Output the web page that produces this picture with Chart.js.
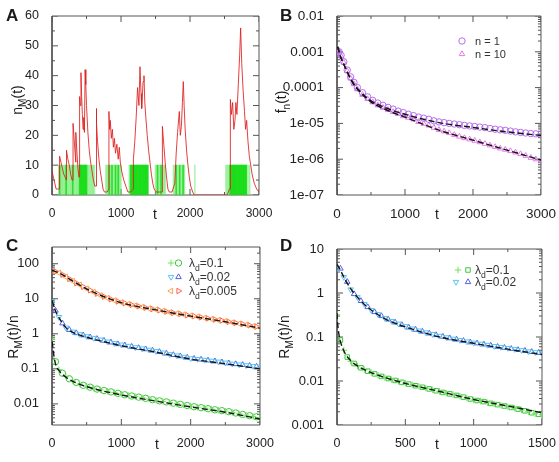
<!DOCTYPE html>
<html>
<head>
<meta charset="utf-8">
<script src="https://cdn.jsdelivr.net/npm/chart.js@4.4.1/dist/chart.umd.min.js"></script>
<style>
  body { margin: 0; background: #fff; }
  #fig { position: relative; width: 559px; height: 462px; overflow: hidden; }
  #fig canvas { position: absolute; }
</style>
</head>
<body>
<div id="fig">
  <canvas id="cA" width="280" height="230" style="left:0;top:0"></canvas>
  <canvas id="cB" width="294" height="230" style="left:265px;top:0"></canvas>
  <canvas id="cC" width="280" height="232" style="left:0;top:230px"></canvas>
  <canvas id="cD" width="294" height="232" style="left:265px;top:230px"></canvas>
</div>
<script>
//===========================================================================================
// ~~ DATA ~~

// A : n_M(t), one trajectory (red) and the times where the green bars are drawn
var tA = [0,20,40,60,80,110,110,130,150,170,190,210,210,230,250,270,290,305,305,320,
  335,345,345,360,375,390,400,400,410,420,430,440,450,460,470,480,490,500,520,540,
  560,580,600,620,640,640,650,660,680,700,720,740,760,800,825,825,835,845,860,875,
  890,905,920,940,960,975,990,1010,1040,1070,1100,1140,1180,1180,1200,1220,1240,1260,1275,1290,
  1300,1320,1333,1345,1360,1380,1400,1420,1440,1460,1480,1510,1560,1600,1600,1620,1640,1660,1680,1700,
  1740,1780,1800,1820,1845,1860,1875,1890,1903,1915,1930,1950,1970,1990,2010,2040,2060,2300,2540,2570,
  2585,2585,2600,2618,2635,2652,2665,2680,2700,2720,2734,2750,2770,2790,2805,2821,2840,2860,2880,2900,
  2930,2966,3000];
var nA = [8,6,4,2,2,2,13,11,9,7,6,5,15,12,10,7,5,5,24,19,
  14,11,21,15,9,6,6,33,30,41,33,27,22,26,21,42,37,30,21,15,
  11,8,5,3,3,29,24,18,12,8,5,2,1,1,2,28,22,25,19,22,
  16,19,14,17,12,16,11,8,5,3,1,1,2,12,18,26,36,30,43,34,
  29,38,40,31,26,20,15,11,7,4,2,1,1,1,23,17,11,6,2,1,
  1,4,14,21,28,20,23,31,38,30,22,15,10,6,3,1,0,0,0,2,
  2,32,27,31,22,25,31,27,37,47,56,44,35,28,22,25,18,13,10,7,
  4,2,1];
var gLevel = 10;
var gLight = [100,112,125,140,150,165,178,190,205,215,228,240,255,268,280,295,310,322,335,350,362,375,388,
  505,518,530,545,560,572,588,600,615,
  780,795,808,820,835,848,860,875,890,905,918,930,945,958,972,985,1000,
  1120,1135,1500,1512,1525,1540,1555,1570,1585,1600,1615,1630,1640,
  1760,1775,1790,1805,1820,1835,1850,1865,1880,1895,1910,1920,2070,
  2520,2535,2550,2565,2850,2865];
var gBright = [110,205,300,400,410,420,430,440,450,460,470,480,490,500,830,870,920,960,
  1140,1150,1160,1170,1180,1190,1200,1210,1220,1230,1240,1250,1260,1270,1280,1290,1300,1310,1320,1330,1340,1350,1360,1370,1380,1390,
  1530,1580,1800,1850,1900,
  2580,2590,2600,2610,2620,2630,2640,2650,2660,2670,2680,2690,2700,2710,2720,2730,2740,2750,2760,2770,2780,2790,2800,2810,2820];

// B : f_n(t)
var tB = [0,30,60,100,150,200,250,300,375,450,525,600,675,750,825,900,975,1050,1125,1200,1275,1350,
  1425,1500,1575,1650,1725,1800,1875,1950,2025,2100,2175,2250,2325,2400,2475,2550,2625,2700,2775,2850,2925,3000];
var fB1 = [1.1e-3,1.0e-3,8e-4,5.3e-4,3.1e-4,2.0e-4,1.4e-4,1.0e-4,7.2e-5,5.5e-5,4.4e-5,3.7e-5,3.2e-5,2.8e-5,2.5e-5,2.2e-5,2.0e-5,1.8e-5,1.65e-5,1.5e-5,1.4e-5,1.3e-5,
  1.18e-5,1.1e-5,1.05e-5,1.0e-5,9.6e-6,9.2e-6,8.8e-6,8.5e-6,8.2e-6,7.9e-6,7.6e-6,7.2e-6,6.9e-6,6.6e-6,6.4e-6,6.1e-6,5.8e-6,5.6e-6,5.4e-6,5.2e-6,5.1e-6,5.0e-6];
var fB10 = [1.2e-3,1.0e-3,7.5e-4,5.0e-4,2.9e-4,1.8e-4,1.25e-4,9.0e-5,6.3e-5,4.8e-5,3.9e-5,3.2e-5,2.75e-5,2.4e-5,2.1e-5,1.85e-5,1.6e-5,1.45e-5,1.3e-5,1.1e-5,9.8e-6,8.8e-6,
  7.6e-6,6.6e-6,6.0e-6,5.4e-6,4.8e-6,4.3e-6,3.9e-6,3.6e-6,3.3e-6,3.0e-6,2.7e-6,2.45e-6,2.2e-6,2.0e-6,1.85e-6,1.7e-6,1.55e-6,1.4e-6,1.25e-6,1.1e-6,1.0e-6,9.2e-7];
var tFitB = [10,50,100,200,300,500,700,1000,1500,2000,2500,3000];
var fitB1 = [1.4e-3,7.5e-4,4.5e-4,1.8e-4,9.5e-5,4.3e-5,2.8e-5,1.8e-5,1.05e-5,7.7e-6,5.8e-6,4.6e-6];
var fitB10 = [1.4e-3,7.5e-4,4.5e-4,1.7e-4,9.0e-5,4.0e-5,2.5e-5,1.5e-5,6.5e-6,3.4e-6,1.8e-6,9.5e-7];

// C : R_M(t)/n for three lambda_d, two runs each
var tC1 = [0,100,200,300,400,500,600,700,800,900,1000,1100,1200,1300,1400,1500,1600,1700,1800,1900,2000,2100,2200,2300,2400,2500,2600,2700,2800,2900,3000];
var tC2 = [50,150,250,350,450,550,650,750,850,950,1050,1150,1250,1350,1450,1550,1650,1750,1850,1950,2050,2150,2250,2350,2450,2550,2650,2750,2850,2950];
var cG1 = [0.7,0.095,0.061,0.045,0.037,0.032,0.028,0.025,0.023,0.021,0.019,0.0175,0.0162,0.015,0.0138,0.0127,0.0118,0.011,0.0101,0.0093,0.0086,0.0081,0.0076,0.0071,0.0066,0.0062,0.0057,0.0052,0.0048,0.0044,0.0041];
var cG2 = [0.16,0.075,0.052,0.041,0.034,0.030,0.0265,0.024,0.022,0.020,0.0182,0.0168,0.0156,0.0144,0.0132,0.0122,0.0114,0.0105,0.0097,0.009,0.0083,0.0078,0.0073,0.0068,0.0064,0.006,0.0055,0.005,0.0046,0.0043];
var cB1 = [8.5,3.0,1.5,1.15,0.97,0.85,0.76,0.68,0.6,0.54,0.49,0.45,0.41,0.38,0.35,0.32,0.29,0.26,0.24,0.22,0.2,0.19,0.18,0.17,0.16,0.15,0.14,0.133,0.126,0.12,0.115];
var cB2 = [4.6,2.0,1.3,1.05,0.91,0.8,0.72,0.64,0.57,0.51,0.47,0.43,0.395,0.365,0.335,0.305,0.275,0.25,0.23,0.21,0.195,0.185,0.175,0.165,0.155,0.145,0.137,0.13,0.123,0.117];
var cO1 = [62,55,42,32,25,19.5,15.5,12.5,10.5,9,7.9,7.1,6.4,5.8,5.3,4.9,4.5,4.1,3.8,3.55,3.3,3.1,2.85,2.65,2.45,2.3,2.1,1.95,1.8,1.65,1.5];
var cO2 = [60,49,37,28,22,17.5,14,11.5,9.7,8.4,7.5,6.7,6.1,5.55,5.1,4.7,4.3,3.95,3.7,3.4,3.2,2.95,2.75,2.55,2.4,2.2,2.05,1.9,1.75,1.6];
var tFitCG = [3,20,50,100,200,300,500,1000,1500,2000,2500,3000];
var fitCG = [0.6,0.3,0.14,0.09,0.058,0.044,0.031,0.018,0.012,0.0082,0.0058,0.0037];
var tFitCB = [0,50,100,200,300,500,1000,1500,2000,2500,3000];
var fitCB = [9,4.5,2.9,1.5,1.1,0.8,0.46,0.3,0.19,0.14,0.1];
var tFitCO = [0,100,300,500,1000,1500,2000,2500,3000];
var fitCO = [65,55,32,19,7.7,4.8,3.2,2.2,1.45];

// D : R_M(t)/n, shorter time window
var tD1 = [0,50,100,150,200,250,300,350,400,450,500,550,600,650,700,750,800,850,900,950,1000,1050,1100,1150,1200,1250,1300,1350,1400,1450,1500];
var tD2 = [25,75,125,175,225,275,325,375,425,475,525,575,625,675,725,775,825,875,925,975,1025,1075,1125,1175,1225,1275,1325,1375,1425,1475];
var dG1 = [0.32,0.05,0.028,0.022,0.018,0.0155,0.0135,0.012,0.0108,0.0098,0.0089,0.0082,0.0075,0.0069,0.0063,0.0058,0.0053,0.0049,0.0045,0.0041,0.0037,0.0035,0.0032,0.003,0.0028,0.0026,0.0024,0.0022,0.002,0.0018,0.0017];
var dG2 = [0.085,0.035,0.025,0.02,0.0167,0.0145,0.0127,0.0114,0.0103,0.0093,0.0085,0.0078,0.0072,0.0066,0.006,0.0055,0.0051,0.0047,0.0043,0.0039,0.0036,0.0034,0.0031,0.0029,0.0027,0.0025,0.0023,0.0021,0.0019,0.00175];
var dB1 = [3.6,2.3,1.2,0.8,0.56,0.41,0.33,0.27,0.23,0.2,0.175,0.155,0.14,0.127,0.116,0.106,0.098,0.091,0.085,0.079,0.074,0.07,0.066,0.062,0.059,0.056,0.053,0.05,0.047,0.045,0.043];
var dB2 = [3.6,1.8,0.95,0.66,0.48,0.37,0.3,0.25,0.215,0.188,0.165,0.147,0.133,0.121,0.111,0.102,0.094,0.088,0.082,0.076,0.072,0.068,0.064,0.06,0.057,0.054,0.051,0.049,0.046,0.044];
var tFitDG = [0,5,15,30,60,100,150,250,500,750,1000,1250,1500];
var fitDG = [0.35,0.2,0.11,0.07,0.042,0.029,0.022,0.0155,0.0088,0.0058,0.0038,0.0027,0.0019];
var tFitDB = [0,25,50,100,150,200,250,300,400,500,750,1000,1250,1500];
var fitDB = [4.5,3.3,2.3,1.25,0.8,0.55,0.41,0.32,0.22,0.17,0.1,0.072,0.053,0.04];

// axis ticks
var xTicks3000 = [0,1000,2000,3000];
var xTicks1500 = [0,500,1000,1500];
var yTicksA = [0,10,20,30,40,50,60];
var yTicksB = [1e-7,1e-6,1e-5,1e-4,1e-3,1e-2];
var yLabelsB = ['1e-07','1e-06','1e-05','0.0001','0.001','0.01'];
var yTicksC = [0.01,0.1,1,10,100];
var yLabelsC = ['0.01','0.1','1','10','100'];
var yTicksD = [0.001,0.01,0.1,1,10];
var yLabelsD = ['0.001','0.01','0.1','1','10'];


//===========================================================================================
// ~~ HELPERS ~~

var FIG_FONT = "'Liberation Sans', Arial, Helvetica, sans-serif";
var FRAME_COLOR = '#555';

function toPoints(xs, ys) {
  return xs.map(function (x, i) { return { x: x, y: ys[i] }; });
}

function scatterSet(xs, ys, color, style, rot) {
  return {
    data: toPoints(xs, ys), showLine: false,
    borderColor: color, backgroundColor: 'rgba(0,0,0,0)',
    pointStyle: style, pointRotation: rot || 0, pointRadius: 3.2, pointBorderWidth: 1
  };
}

function fitSet(xs, ys) {
  return {
    data: toPoints(xs, ys), borderColor: '#151515', borderWidth: 1.4, borderDash: [6, 3],
    pointRadius: 0, cubicInterpolationMode: 'monotone', fill: false
  };
}

// box round the plot + inward tick marks, drawn as datasets on the chart's own scales
function frameSets(cfg) {
  var x0 = cfg.xMin, x1 = cfg.xMax, y0 = cfg.yMin, y1 = cfg.yMax;
  var xv = cfg.xMajor.concat(cfg.xMinor), yv = cfg.yMajor.concat(cfg.yMinor);
  var xr = xv.map(function (v, i) { return i < cfg.xMajor.length ? 6 : 3; });
  var yr = yv.map(function (v, i) { return i < cfg.yMajor.length ? 6 : 3; });
  function tickSet(points, rot, radii) {
    return {
      data: points, showLine: false, pointStyle: 'line', pointRotation: rot, pointRadius: radii,
      pointBorderWidth: 1, borderColor: FRAME_COLOR, pointBorderColor: FRAME_COLOR, backgroundColor: FRAME_COLOR, clip: 0
    };
  }
  return [
    tickSet(xv.map(function (v) { return { x: v, y: y0 }; }), 90, xr),
    tickSet(xv.map(function (v) { return { x: v, y: y1 }; }), 90, xr),
    tickSet(yv.map(function (v) { return { x: x0, y: v }; }), 0, yr),
    tickSet(yv.map(function (v) { return { x: x1, y: v }; }), 0, yr),
    {
      data: [{ x: x0, y: y0 }, { x: x1, y: y0 }, { x: x1, y: y1 }, { x: x0, y: y1 }, { x: x0, y: y0 }],
      borderColor: FRAME_COLOR, borderWidth: 1, pointRadius: 0, tension: 0, fill: false, clip: false
    }
  ];
}

function textRunWidth(ctx, parts, size) {
  var w = 0;
  parts.forEach(function (p) {
    ctx.font = (p.sub ? size * 0.72 : size) + 'px ' + FIG_FONT;
    w += ctx.measureText(p.t).width;
  });
  return w;
}

function fillTextRun(ctx, parts, x, y, size) {
  parts.forEach(function (p) {
    var s = p.sub ? size * 0.72 : size;
    ctx.font = s + 'px ' + FIG_FONT;
    ctx.fillText(p.t, x, y + (p.sub ? size * 0.3 : 0));
    x += ctx.measureText(p.t).width;
  });
}

function minorLogTicks(min, max) {
  var out = [];
  for (var d = Math.floor(Math.log10(min)); d <= Math.ceil(Math.log10(max)); d++) {
    for (var m = 2; m <= 9; m++) {
      var v = m * Math.pow(10, d);
      if (v > min && v < max) out.push(v);
    }
  }
  return out;
}

// titles, panel letter and legend
function textPlugin(cfg) {
  return {
    id: 'figText' + cfg.letter,
    afterDatasetsDraw: function (chart) {
      var ctx = chart.ctx;
      ctx.save();
      ctx.fillStyle = '#1a1a1a';
      ctx.textBaseline = 'alphabetic';
      ctx.font = 'bold 17px ' + FIG_FONT;
      ctx.fillText(cfg.letter, cfg.letterPos[0], cfg.letterPos[1]);
      ctx.font = '14px ' + FIG_FONT;
      ctx.textAlign = 'center';
      ctx.fillText('t', cfg.xTitlePos[0], cfg.xTitlePos[1]);
      ctx.textAlign = 'left';
      ctx.save();
      ctx.translate(cfg.yTitlePos[0], cfg.yTitlePos[1]);
      ctx.rotate(-Math.PI / 2);
      var w = textRunWidth(ctx, cfg.yTitle, 14);
      fillTextRun(ctx, cfg.yTitle, -w / 2, 5, 14);
      ctx.restore();
      (cfg.legend || []).forEach(function (row) {
        row.symbols.forEach(function (m) {
          var ds = chart.data.datasets[m.ds];
          ctx.strokeStyle = ds.borderColor;
          ctx.fillStyle = 'rgba(0,0,0,0)';
          ctx.lineWidth = 1;
          ctx.setLineDash([]);
          if (Chart.helpers && Chart.helpers.drawPoint) {
            Chart.helpers.drawPoint(ctx, { pointStyle: ds.pointStyle, rotation: ds.pointRotation, radius: 3.2, borderWidth: 1 }, m.x, row.y);
          }
        });
        ctx.fillStyle = '#333';
        fillTextRun(ctx, row.parts, row.tx, row.y + 4, cfg.legendSize);
      });
      ctx.restore();
    }
  };
}

function drawPanel(id, cfg, datasets) {
  var cv = document.getElementById(id);
  var W = cv.width, H = cv.height, box = cfg.area;
  return new Chart(cv, {
    type: 'line',
    data: { datasets: datasets.concat(frameSets(cfg)) },
    options: {
      responsive: false, animation: false, events: [],
      layout: { padding: { left: 0, top: box.top, right: W - box.right, bottom: 0 } },
      plugins: { legend: { display: false }, tooltip: { enabled: false } },
      scales: {
        x: {
          type: 'linear', min: cfg.xMin, max: cfg.xMax, offset: false,
          grid: { display: false, offset: false }, border: { display: false },
          ticks: { font: { family: FIG_FONT, size: cfg.xFont }, color: '#222', padding: 3, maxRotation: 0, autoSkip: false,
                   callback: function (v) { return String(v); } },
          afterBuildTicks: function (s) { s.ticks = cfg.xMajor.map(function (v) { return { value: v }; }); },
          afterFit: function (s) { s.height = H - box.bottom; }
        },
        y: {
          type: cfg.yLog ? 'logarithmic' : 'linear', min: cfg.yMin, max: cfg.yMax,
          grid: { display: false }, border: { display: false },
          ticks: { font: { family: FIG_FONT, size: cfg.yFont }, color: '#222', padding: 5, autoSkip: false,
                   callback: function (v, i) { return cfg.yLabels[i]; } },
          afterBuildTicks: function (s) { s.ticks = cfg.yMajor.map(function (v) { return { value: v }; }); },
          afterFit: function (s) { s.width = box.left; }
        }
      }
    },
    plugins: [textPlugin(cfg)]
  });
}

function lambdaLabel(v) { return [{ t: 'λ' }, { t: 'd', sub: true }, { t: '=' + v }]; }


//===========================================================================================
// ~~ PANEL A ~~

drawPanel('cA', {
  letter: 'A', letterPos: [6, 21], xTitlePos: [155, 219], yTitlePos: [17, 100],
  yTitle: [{ t: 'n' }, { t: 'M', sub: true }, { t: '(t)' }],
  area: { left: 52, right: 259, top: 16, bottom: 195 },
  xMin: 0, xMax: 3000, xMajor: xTicks3000, xMinor: [500, 1500, 2500], xFont: 12,
  yLog: false, yMin: 0, yMax: 60, yMajor: yTicksA, yMinor: [5, 15, 25, 35, 45, 55], yFont: 12.5,
  yLabels: yTicksA.map(String)
}, [
  { data: toPoints(tA, nA), borderColor: 'rgba(222,30,30,0.85)', borderWidth: 1, pointRadius: 0, tension: 0 },
  { type: 'bar', data: gBright.map(function (t) { return { x: t, y: gLevel }; }), backgroundColor: 'rgba(20,220,20,0.8)', barThickness: 1, grouped: false },
  { type: 'bar', data: gLight.map(function (t) { return { x: t, y: gLevel }; }), backgroundColor: 'rgba(90,230,90,0.45)', barThickness: 1, grouped: false }
]);


//===========================================================================================
// ~~ PANEL B ~~

drawPanel('cB', {
  letter: 'B', letterPos: [15, 21], xTitlePos: [172, 219], yTitlePos: [16, 102],
  yTitle: [{ t: 'f' }, { t: 'n', sub: true }, { t: '(t)' }],
  area: { left: 72, right: 277, top: 16, bottom: 195 },
  xMin: 0, xMax: 3000, xMajor: xTicks3000, xMinor: [500, 1500, 2500], xFont: 13.5,
  yLog: true, yMin: 1e-7, yMax: 1e-2, yMajor: yTicksB, yMinor: minorLogTicks(1e-7, 1e-2), yFont: 13.5,
  yLabels: yLabelsB, legendSize: 11,
  legend: [
    { symbols: [{ x: 197, ds: 2 }], tx: 210, y: 41, parts: [{ t: 'n = 1' }] },
    { symbols: [{ x: 197, ds: 3 }], tx: 210, y: 54, parts: [{ t: 'n = 10' }] }
  ]
}, [
  fitSet(tFitB, fitB1),
  fitSet(tFitB, fitB10),
  scatterSet(tB, fB1, '#b46cf0', 'circle'),
  scatterSet(tB, fB10, '#e57ee8', 'triangle')
]);


//===========================================================================================
// ~~ PANEL C ~~

drawPanel('cC', {
  letter: 'C', letterPos: [6, 21], xTitlePos: [157, 219], yTitlePos: [13, 107],
  yTitle: [{ t: 'R' }, { t: 'M', sub: true }, { t: '(t)/n' }],
  area: { left: 52, right: 260, top: 17, bottom: 195 },
  xMin: 0, xMax: 3000, xMajor: xTicks3000, xMinor: [500, 1500, 2500], xFont: 12.5,
  yLog: true, yMin: 0.0025, yMax: 300, yMajor: yTicksC, yMinor: minorLogTicks(0.0025, 300), yFont: 13,
  yLabels: yLabelsC, legendSize: 12,
  legend: [
    { symbols: [{ x: 171, ds: 3 }, { x: 178.5, ds: 4 }], tx: 189, y: 33, parts: lambdaLabel('0.1') },
    { symbols: [{ x: 171, ds: 5 }, { x: 178.5, ds: 6 }], tx: 189, y: 47, parts: lambdaLabel('0.02') },
    { symbols: [{ x: 171, ds: 7 }, { x: 178.5, ds: 8 }], tx: 189, y: 61, parts: lambdaLabel('0.005') }
  ]
}, [
  fitSet(tFitCG, fitCG),
  fitSet(tFitCB, fitCB),
  fitSet(tFitCO, fitCO),
  scatterSet(tC1, cG1, '#74e060', 'cross'),
  scatterSet(tC2, cG2, '#3cc83c', 'circle'),
  scatterSet(tC1, cB1, '#56c6f2', 'triangle', 180),
  scatterSet(tC2, cB2, '#5462e6', 'triangle'),
  scatterSet(tC1, cO1, '#ffa24c', 'triangle', 270),
  scatterSet(tC2, cO2, '#ff6258', 'triangle', 90)
]);


//===========================================================================================
// ~~ PANEL D ~~

drawPanel('cD', {
  letter: 'D', letterPos: [15, 21], xTitlePos: [172, 219], yTitlePos: [19, 107],
  yTitle: [{ t: 'R' }, { t: 'M', sub: true }, { t: '(t)/n' }],
  area: { left: 72, right: 277, top: 19, bottom: 195 },
  xMin: 0, xMax: 1500, xMajor: xTicks1500, xMinor: [250, 750, 1250], xFont: 12.5,
  yLog: true, yMin: 0.001, yMax: 10, yMajor: yTicksD, yMinor: minorLogTicks(0.001, 10), yFont: 13,
  yLabels: yLabelsD, legendSize: 12,
  legend: [
    { symbols: [{ x: 193, ds: 2 }, { x: 203, ds: 3 }], tx: 210, y: 40, parts: lambdaLabel('0.1') },
    { symbols: [{ x: 191, ds: 4 }, { x: 203, ds: 5 }], tx: 210, y: 52, parts: lambdaLabel('0.02') }
  ]
}, [
  fitSet(tFitDG, fitDG),
  fitSet(tFitDB, fitDB),
  scatterSet(tD1, dG1, '#74e060', 'cross'),
  scatterSet(tD2, dG2, '#3cc83c', 'rect'),
  scatterSet(tD1, dB1, '#56c6f2', 'triangle', 180),
  scatterSet(tD2, dB2, '#5462e6', 'triangle')
]);
</script>
</body>
</html>
